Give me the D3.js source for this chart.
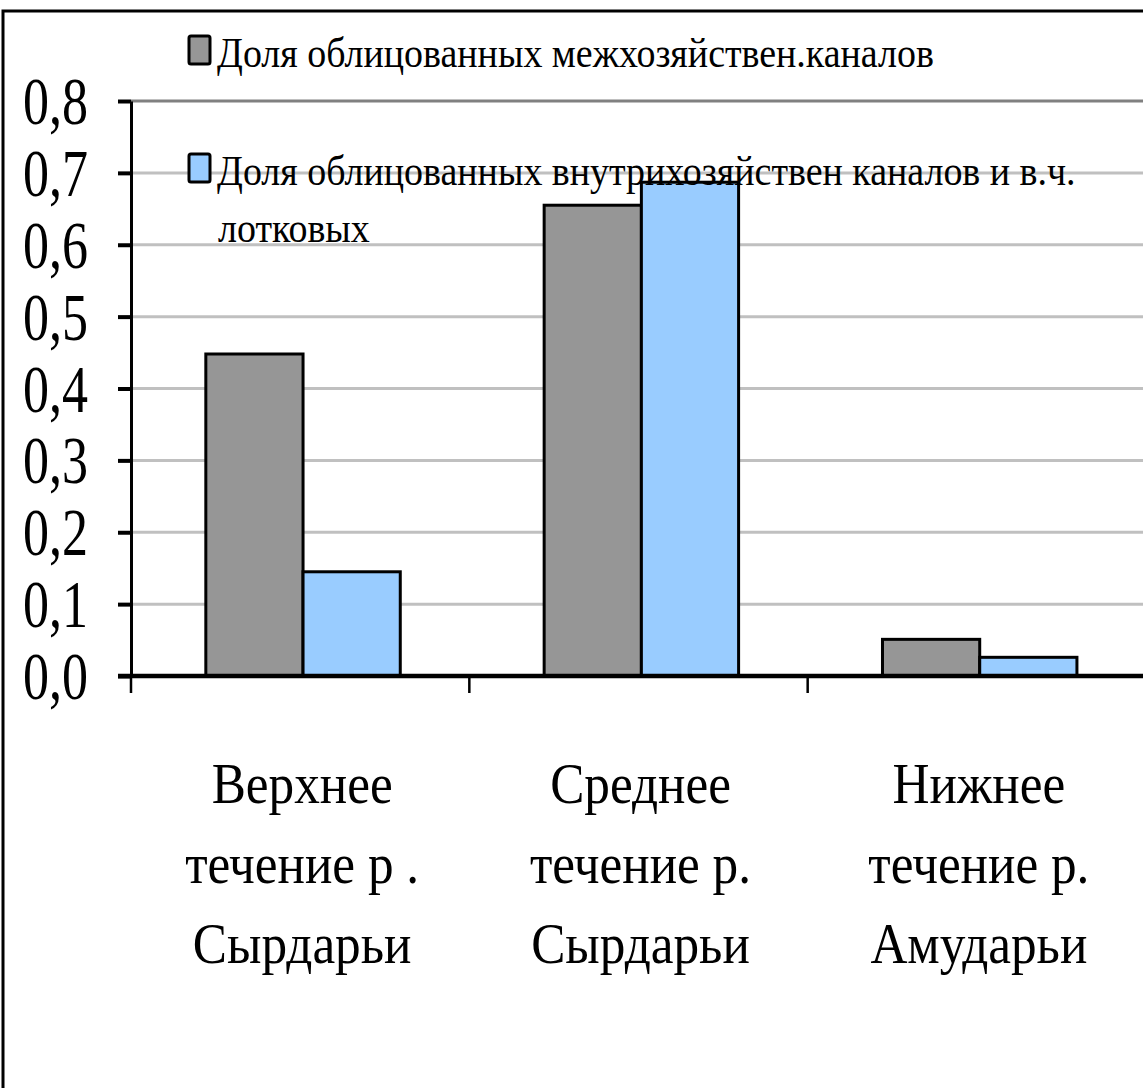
<!DOCTYPE html>
<html>
<head>
<meta charset="utf-8">
<script src="https://cdn.jsdelivr.net/npm/d3@7"></script>
<style>
  body { margin: 0; background: #fff; }
  svg { display: block; }
  text { font-family: "Liberation Serif", "Times New Roman", serif; fill: #000; }
</style>
</head>
<body>
<svg id="chart"></svg>
<script>
// data
var categories = [
    ["Верхнее", "течение р .", "Сырдарьи"],
    ["Среднее", "течение р.", "Сырдарьи"],
    ["Нижнее", "течение р.", "Амударьи"]
]
var seriesNames = [
    ["Доля облицованных межхозяйствен.каналов"],
    ["Доля облицованных внутрихозяйствен каналов и в.ч.", "лотковых"]
]
var interFarm = [0.448, 0.655, 0.051]   // grey bars
var onFarm = [0.145, 0.687, 0.026]      // blue bars
var yTicks = [0, 0.1, 0.2, 0.3, 0.4, 0.5, 0.6, 0.7, 0.8]
var colors = ["#969696", "#99ccff"]

var dimensions = {
    width: 1143,
    height: 1088,
    margin: { top: 101, bottom: 412, left: 131, right: -3 }
}

var svg = d3.select("#chart")
            .attr("width", dimensions.width)
            .attr("height", dimensions.height)

svg.append("rect")
    .attr("width", dimensions.width).attr("height", dimensions.height)
    .attr("fill", "#fff")

// outer chart frame (right and bottom run off the picture)
svg.append("rect")
    .attr("x", 3).attr("y", 11)
    .attr("width", 1200).attr("height", 1200)
    .attr("fill", "none").attr("stroke", "#000").attr("stroke-width", 3)

var catIdx = d3.range(categories.length)

var xScale = d3.scaleBand()
               .domain(catIdx)
               .range([dimensions.margin.left, dimensions.width - dimensions.margin.right])

var xInner = d3.scaleBand()
               .domain([0, 1])
               .range([0, xScale.bandwidth()])
               .paddingOuter(0.74)
               .align(0.52)

var yScale = d3.scaleLinear()
               .domain([0, 0.8])
               .range([dimensions.height - dimensions.margin.bottom, dimensions.margin.top])

// gridlines
svg.append("g")
    .selectAll("line")
    .data(yTicks.filter(d => d > 0))
    .join("line")
    .attr("x1", dimensions.margin.left)
    .attr("x2", dimensions.width + 10)
    .attr("y1", d => yScale(d))
    .attr("y2", d => yScale(d))
    .attr("stroke", d => d === 0.8 ? "#808080" : "#c0c0c0")
    .attr("stroke-width", 3)

// bars
var data = []
catIdx.forEach(function(i){
    data.push({cat: i, s: 0, v: interFarm[i]})
    data.push({cat: i, s: 1, v: onFarm[i]})
})

svg.append("g")
    .selectAll("rect")
    .data(data)
    .join("rect")
    .attr("x", d => xScale(d.cat) + xInner(d.s))
    .attr("y", d => yScale(d.v))
    .attr("width", xInner.bandwidth())
    .attr("height", d => yScale(0) - yScale(d.v))
    .attr("fill", d => colors[d.s])
    .attr("stroke", "#000")
    .attr("stroke-width", 3)

// y axis
var yAxisgen = d3.axisLeft(yScale)
                 .tickValues(yTicks)
                 .tickSize(13)
                 .tickSizeOuter(0)
                 .tickFormat(d => d3.format(".1f")(d).replace(".", ","))

var yAxis = svg.append("g")
               .attr("transform", `translate(${dimensions.margin.left},0)`)
               .call(yAxisgen)
yAxis.select(".domain").attr("stroke", "#000").attr("stroke-width", 3)
yAxis.selectAll(".tick line").attr("stroke", "#000").attr("stroke-width", 4)
yAxis.selectAll(".tick text").remove()

// x axis: boundary ticks hanging under the baseline
var base = yScale(0)
var bounds = catIdx.map(i => xScale(i)).concat([xScale(catIdx.length - 1) + xScale.bandwidth()])
svg.append("g")
    .selectAll("line")
    .data(bounds)
    .join("line")
    .attr("x1", d => d).attr("x2", d => d)
    .attr("y1", base).attr("y2", base + 17)
    .attr("stroke", "#000").attr("stroke-width", 2.5)

svg.append("line")
    .attr("x1", dimensions.margin.left - 13)
    .attr("x2", dimensions.width + 10)
    .attr("y1", base).attr("y2", base)
    .attr("stroke", "#000").attr("stroke-width", 4.5)

// text helper: condensed serif like the original
function measure(str, size){
    var t = svg.append("text").attr("font-size", size).text(str)
    var w = t.node().getComputedTextLength()
    t.remove()
    return w
}
var tickSize = 68, legSize = 42, catSize = 58
var tickSx = 65 / measure("0,5", tickSize)
var legSx = 717 / measure(seriesNames[0][0], legSize)
var catSx = 181 / measure("Верхнее", catSize)

svg.append("g")
    .selectAll("text")
    .data(yTicks)
    .join("text")
    .attr("transform", d => `translate(88,${yScale(d) + 23}) scale(${tickSx},1)`)
    .attr("text-anchor", "end")
    .attr("font-size", tickSize)
    .text(d => d3.format(".1f")(d).replace(".", ","))

// category labels
var catG = svg.append("g")
catIdx.forEach(function(i){
    var cx = xScale(i) + xScale.bandwidth() / 2 + 2
    categories[i].forEach(function(line, j){
        catG.append("text")
            .attr("transform", `translate(${cx},${803 + j * 80}) scale(${catSx},1)`)
            .attr("text-anchor", "middle")
            .attr("font-size", catSize)
            .text(line)
    })
})

// legend
var legTop = [36, 154]
var legBase = [66.7, 185]
var legend = svg.append("g")
seriesNames.forEach(function(lines, i){
    legend.append("rect")
        .attr("x", 189).attr("y", legTop[i])
        .attr("width", 21).attr("height", 28)
        .attr("rx", 2)
        .attr("fill", colors[i])
        .attr("stroke", "#000").attr("stroke-width", 3)
    lines.forEach(function(line, j){
        legend.append("text")
            .attr("transform", `translate(${217 + j},${legBase[i] + j * 57}) scale(${legSx},1)`)
            .attr("font-size", legSize)
            .text(line)
    })
})
</script>
</body>
</html>
